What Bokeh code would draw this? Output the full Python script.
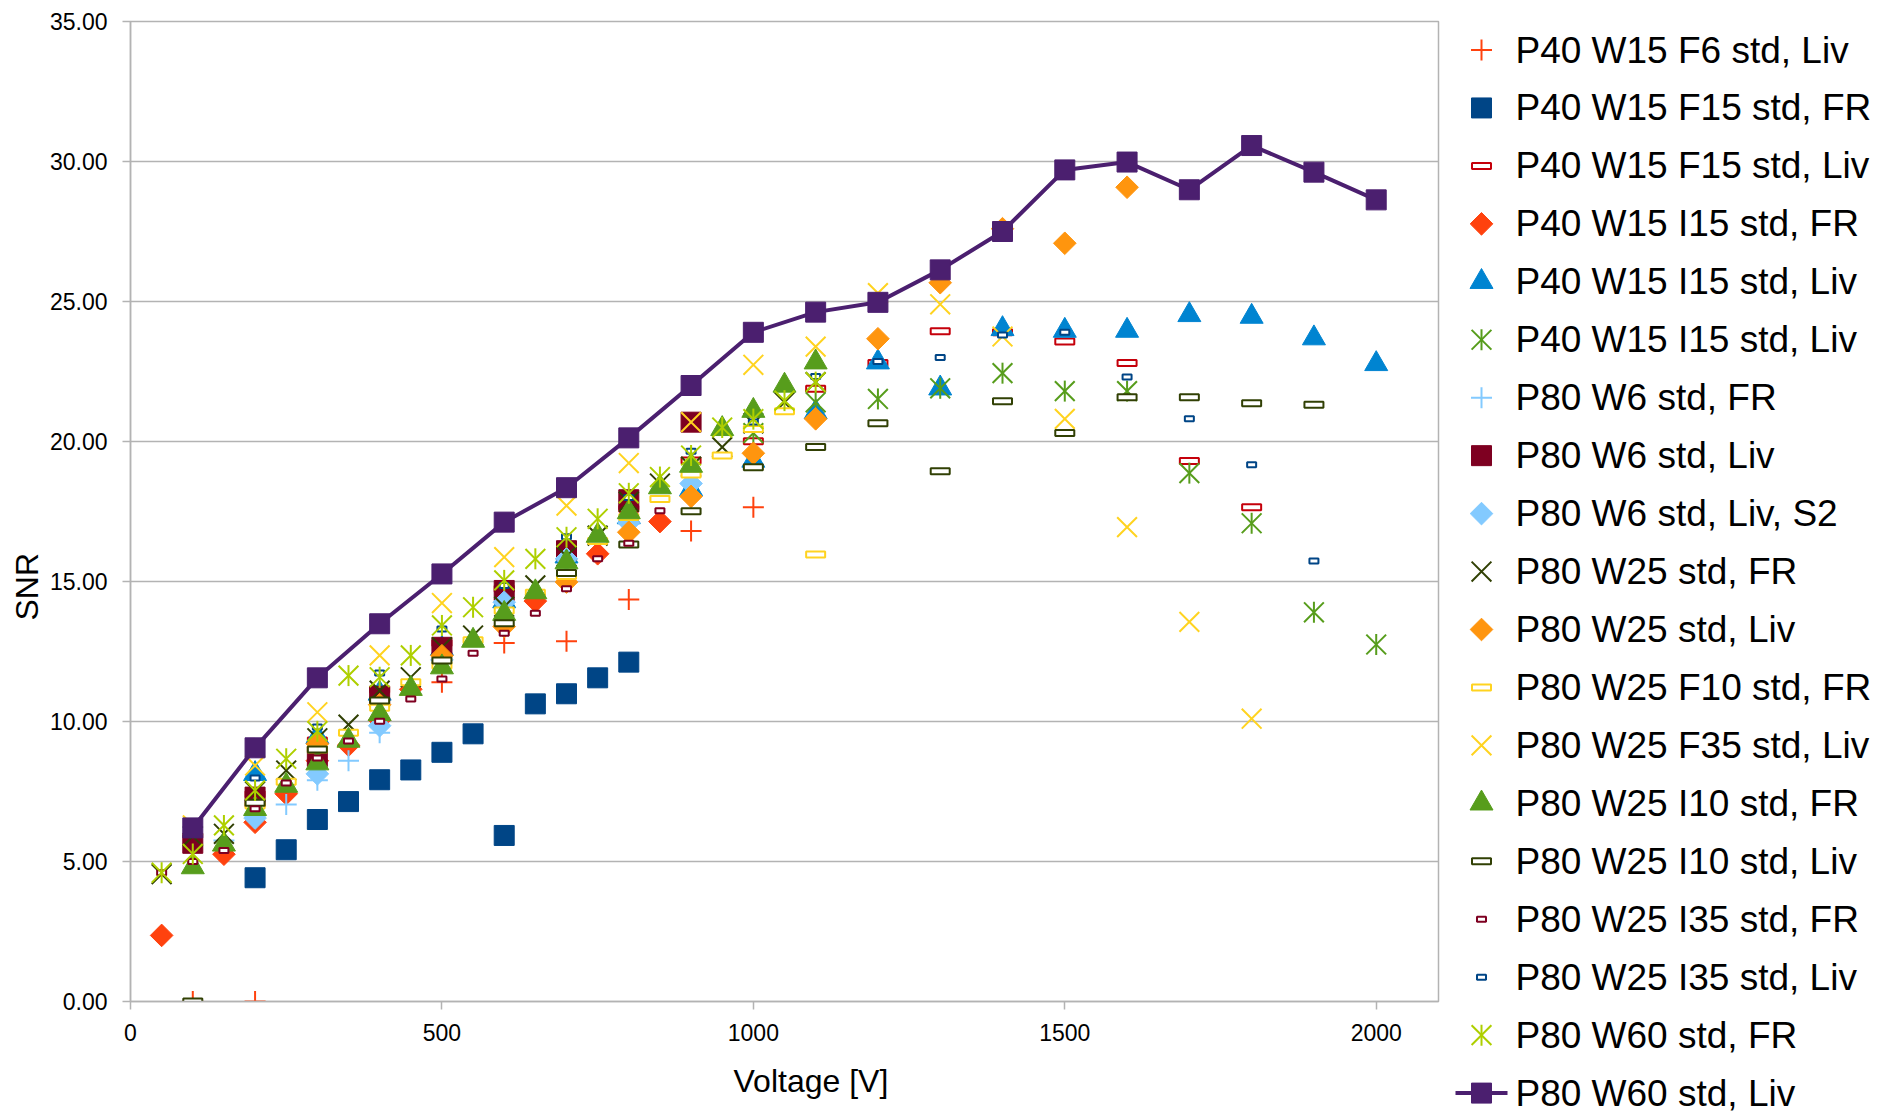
import math
from bokeh.plotting import figure
from bokeh.layouts import row
from bokeh.models import Range1d, FixedTicker, NumeralTickFormatter, Title
from bokeh.core.properties import value
from bokeh.embed import file_html
from bokeh.resources import INLINE

FONT = "Liberation Sans"
GRID = "#b3b3b3"

# ---------------- measurement data: voltage [V] vs. SNR ----------------
v_p40_w15_f6_liv = [100, 200, 500, 600, 700, 800, 900, 1000]
snr_p40_w15_f6_liv = [0.0, 0.0, 11.4, 12.8, 12.87, 14.36, 16.8, 17.65]

v_p40_w15_f15_fr = [200, 250, 300, 350, 400, 450, 500, 550, 600, 650, 700, 750, 800]
snr_p40_w15_f15_fr = [4.42, 5.42, 6.5, 7.14, 7.92, 8.27, 8.9, 9.56, 5.93, 10.63, 10.99, 11.56, 12.12]

v_p40_w15_f15_liv = [200, 300, 400, 500, 600, 700, 800, 900, 1000, 1100, 1200, 1300, 1400, 1500, 1600, 1700, 1800]
snr_p40_w15_f15_liv = [7.4, 9.32, 11.14, 12.8, 14.74, 16.3, 17.6, 19.32, 20.01, 21.88, 22.8, 23.94, 23.9, 23.57, 22.8, 19.3, 17.65]

v_p40_w15_i15_fr = [50, 150, 200, 250, 300, 350, 400, 450, 650, 750, 850]
snr_p40_w15_i15_fr = [2.36, 5.26, 6.4, 7.42, 8.6, 9.15, 10.05, 11.15, 14.3, 15.99, 17.14]

v_p40_w15_i15_liv = [200, 300, 400, 500, 600, 700, 800, 900, 1000, 1100, 1200, 1300, 1400, 1500, 1600, 1700, 1800, 1900, 2000]
snr_p40_w15_i15_liv = [8.13, 9.45, 11.0, 12.6, 14.3, 15.9, 17.3, 18.3, 19.32, 21.05, 22.83, 21.9, 24.02, 23.96, 23.96, 24.52, 24.46, 23.69, 22.77]

v_p40_w15_i15_liv_b = [1000, 1100, 1200, 1300, 1400, 1500, 1600, 1700, 1800, 1900, 2000]
snr_p40_w15_i15_liv_b = [20.3, 21.4, 21.52, 21.9, 22.44, 21.8, 21.8, 18.87, 17.08, 13.9, 12.75]

v_p80_w6_fr = [150, 200, 250, 300, 350, 400]
snr_p80_w6_fr = [5.75, 6.6, 7.04, 7.9, 8.6, 9.6]

v_p80_w6_liv = [100, 200, 300, 400, 500, 600, 700, 800, 900]
snr_p80_w6_liv = [5.65, 7.3, 8.75, 10.9, 12.65, 14.68, 16.1, 17.92, 20.69]

v_p80_w6_liv_s2 = [200, 300, 400, 500, 600, 700, 800, 900]
snr_p80_w6_liv_s2 = [6.55, 8.13, 9.85, 12.2, 14.26, 15.81, 17.1, 18.5]

v_p80_w25_fr = [50, 100, 150, 200, 250, 300, 350, 400, 450, 500, 550, 600, 650, 700, 750, 800, 850, 900, 950, 1000, 1050, 1100]
snr_p80_w25_fr = [4.55, 5.9, 5.99, 7.5, 8.25, 9.4, 9.89, 11.1, 11.58, 12.65, 13.07, 14.1, 14.86, 15.9, 16.64, 17.85, 18.5, 19.1, 19.8, 20.65, 21.4, 22.12]

v_p80_w25_liv = [300, 400, 500, 600, 700, 800, 900, 1000, 1100, 1200, 1300, 1400, 1500, 1600]
snr_p80_w25_liv = [9.2, 10.6, 12.35, 13.39, 14.98, 16.76, 18.04, 19.58, 20.81, 23.67, 25.67, 27.6, 27.08, 29.08]

v_p80_w25_f10_fr = [200, 250, 300, 350, 400, 450, 500, 550, 600, 650, 700, 750, 800, 850, 900, 950, 1000, 1050, 1100]
snr_p80_w25_f10_fr = [7.0, 7.85, 9.0, 9.6, 10.49, 11.4, 12.0, 12.9, 13.96, 14.6, 15.2, 16.45, 17.3, 17.95, 18.82, 19.5, 20.45, 21.08, 15.96]

v_p80_w25_f35_liv = [100, 200, 300, 400, 500, 600, 700, 800, 900, 1000, 1100, 1200, 1300, 1400, 1500, 1600, 1700, 1800]
snr_p80_w25_f35_liv = [6.29, 8.43, 10.33, 12.36, 14.23, 15.87, 17.71, 19.23, 20.69, 22.74, 23.39, 25.3, 24.9, 23.75, 20.81, 16.94, 13.56, 10.1]

v_p80_w25_i10_fr = [100, 150, 200, 250, 300, 350, 400, 450, 500, 550, 600, 650, 700, 750, 800, 850, 900, 950, 1000, 1050, 1100]
snr_p80_w25_i10_fr = [4.8, 5.61, 6.88, 7.71, 8.51, 9.32, 10.27, 11.17, 11.94, 12.89, 13.85, 14.62, 15.69, 16.64, 17.48, 18.37, 19.14, 20.45, 21.1, 22.0, 22.83]

v_p80_w25_i10_liv = [100, 200, 300, 400, 500, 600, 700, 800, 900, 1000, 1100, 1200, 1300, 1400, 1500, 1600, 1700, 1800, 1900]
snr_p80_w25_i10_liv = [0.0, 7.1, 9.0, 10.75, 12.18, 13.51, 15.3, 16.32, 17.51, 19.08, 19.8, 20.65, 18.94, 21.44, 20.3, 21.58, 21.58, 21.37, 21.31]

v_p80_w25_i35_fr = [50, 100, 150, 200, 250, 300, 350, 400, 450, 500, 550, 600, 650, 700, 750, 800, 850]
snr_p80_w25_i35_fr = [4.6, 5.0, 5.39, 6.88, 7.8, 8.7, 9.3, 10.01, 10.8, 11.52, 12.44, 13.15, 13.87, 14.74, 15.81, 16.37, 17.53]

v_p80_w25_i35_liv = [100, 200, 300, 400, 500, 600, 700, 800, 900, 1000, 1100, 1200, 1300, 1400, 1500, 1600, 1700, 1800, 1900]
snr_p80_w25_i35_liv = [6.2, 7.98, 9.8, 11.73, 13.3, 14.86, 16.6, 18.0, 19.65, 20.7, 22.32, 22.86, 23.0, 23.8, 23.9, 22.3, 20.81, 19.17, 15.73]

v_p80_w60_fr = [50, 100, 150, 200, 250, 300, 350, 400, 450, 500, 550, 600, 650, 700, 750, 800, 850, 900, 950, 1000, 1050, 1100]
snr_p80_w60_fr = [4.6, 5.27, 6.29, 7.54, 8.67, 9.65, 11.64, 11.58, 12.36, 13.43, 14.08, 15.04, 15.81, 16.58, 17.24, 18.15, 18.73, 19.5, 20.5, 20.8, 21.46, 22.12]

v_p80_w60_liv = [100, 200, 300, 400, 500, 600, 700, 800, 900, 1000, 1100, 1200, 1300, 1400, 1500, 1600, 1700, 1800, 1900, 2000]
snr_p80_w60_liv = [6.2, 9.06, 11.56, 13.49, 15.27, 17.12, 18.35, 20.13, 22.0, 23.9, 24.62, 24.97, 26.13, 27.5, 29.7, 29.98, 28.99, 30.57, 29.62, 28.63]

x_ticks = [0, 500, 1000, 1500, 2000]
y_ticks = [0, 5, 10, 15, 20, 25, 30, 35]

# label, voltages, snr values, marker kind, colour
series = [
    ("P40 W15 F6 std, Liv", v_p40_w15_f6_liv, snr_p40_w15_f6_liv, "plus", "#ff420e"),
    ("P40 W15 F15 std, FR", v_p40_w15_f15_fr, snr_p40_w15_f15_fr, "square", "#004586"),
    ("P40 W15 F15 std, Liv", v_p40_w15_f15_liv, snr_p40_w15_f15_liv, "bar", "#c5000b"),
    ("P40 W15 I15 std, FR", v_p40_w15_i15_fr, snr_p40_w15_i15_fr, "diamond", "#ff420e"),
    ("P40 W15 I15 std, Liv", v_p40_w15_i15_liv, snr_p40_w15_i15_liv, "triangle", "#0084d1"),
    ("P40 W15 I15 std, Liv", v_p40_w15_i15_liv_b, snr_p40_w15_i15_liv_b, "asterisk", "#579d1c"),
    ("P80 W6 std, FR", v_p80_w6_fr, snr_p80_w6_fr, "plus", "#83caff"),
    ("P80 W6 std, Liv", v_p80_w6_liv, snr_p80_w6_liv, "square", "#7e0021"),
    ("P80 W6 std, Liv, S2", v_p80_w6_liv_s2, snr_p80_w6_liv_s2, "diamond", "#83caff"),
    ("P80 W25 std, FR", v_p80_w25_fr, snr_p80_w25_fr, "x", "#314004"),
    ("P80 W25 std, Liv", v_p80_w25_liv, snr_p80_w25_liv, "diamond", "#ff950e"),
    ("P80 W25 F10 std, FR", v_p80_w25_f10_fr, snr_p80_w25_f10_fr, "bar", "#ffd320"),
    ("P80 W25 F35 std, Liv", v_p80_w25_f35_liv, snr_p80_w25_f35_liv, "x", "#ffd320"),
    ("P80 W25 I10 std, FR", v_p80_w25_i10_fr, snr_p80_w25_i10_fr, "triangle", "#579d1c"),
    ("P80 W25 I10 std, Liv", v_p80_w25_i10_liv, snr_p80_w25_i10_liv, "bar", "#314004"),
    ("P80 W25 I35 std, FR", v_p80_w25_i35_fr, snr_p80_w25_i35_fr, "smallbar", "#7e0021"),
    ("P80 W25 I35 std, Liv", v_p80_w25_i35_liv, snr_p80_w25_i35_liv, "smallbar", "#004586"),
    ("P80 W60 std, FR", v_p80_w60_fr, snr_p80_w60_fr, "asterisk", "#aecf00"),
    ("P80 W60 std, Liv", v_p80_w60_liv, snr_p80_w60_liv, "line", "#4b1f6f"),
]


def draw_marks(fig, xs, ys, kind, color):
    if kind == "plus":
        fig.scatter(xs, ys, marker="cross", size=21, line_color=color, line_width=2)
    elif kind == "x":
        fig.scatter(xs, ys, marker="x", size=28, line_color=color, line_width=2)
    elif kind == "asterisk":
        fig.scatter(xs, ys, marker="x", size=28, line_color=color, line_width=2)
        fig.scatter(xs, ys, marker="dash", size=21, angle=math.pi / 2,
                    line_color=color, line_width=2)
    elif kind == "square":
        fig.scatter(xs, ys, marker="square", size=20, fill_color=color, line_color=color)
    elif kind == "diamond":
        fig.scatter(xs, ys, marker="square", size=16, angle=math.pi / 4,
                    fill_color=color, line_color=color)
    elif kind == "triangle":
        fig.scatter(xs, ys, marker="triangle", size=23, fill_color=color, line_color=color)
    elif kind == "bar":
        fig.rect(xs, ys, width=19, height=6, width_units="screen", height_units="screen",
                 fill_color="white", line_color=color, line_width=2)
    elif kind == "smallbar":
        fig.rect(xs, ys, width=9, height=5, width_units="screen", height_units="screen",
                 fill_color="white", line_color=color, line_width=2)
    elif kind == "line":
        fig.line(xs, ys, line_color=color, line_width=4)
        fig.scatter(xs, ys, marker="square", size=20, fill_color=color, line_color=color)


def no_frame_align(fig):
    if "frame_align" in fig.properties():
        fig.frame_align = False


# ---------------- main scatter chart ----------------
p = figure(width=1448, height=1115, x_range=Range1d(0, 2100), y_range=Range1d(0, 35),
           output_backend="svg", toolbar_location=None,
           min_border_left=130, min_border_right=10, min_border_top=21, min_border_bottom=114)
no_frame_align(p)
p.background_fill_color = "white"
p.border_fill_color = "white"
p.outline_line_color = GRID
p.outline_line_width = 1.5

p.xgrid.visible = False
p.ygrid.grid_line_color = GRID
p.ygrid.grid_line_width = 1.5

p.xaxis.ticker = FixedTicker(ticks=x_ticks)
p.yaxis.ticker = FixedTicker(ticks=y_ticks)
p.yaxis.formatter = NumeralTickFormatter(format="0.00")
for ax in (p.xaxis, p.yaxis):
    ax.axis_line_color = GRID
    ax.axis_line_width = 1.5
    ax.major_tick_line_color = GRID
    ax.major_tick_line_width = 1.5
    ax.major_tick_out = 8
    ax.major_tick_in = 0
    ax.minor_tick_line_color = None
    ax.major_label_text_font = FONT
    ax.major_label_text_font_size = "23px"
    ax.major_label_text_color = "black"
p.xaxis.major_label_standoff = 14
p.yaxis.major_label_standoff = 15

for label, xs, ys, kind, color in series:
    draw_marks(p, xs, ys, kind, color)

# axis titles, placed along the frame edges
p.add_layout(Title(text="Voltage [V]", align="left", offset=603, standoff=34,
                   text_font=FONT, text_font_size="32px", text_font_style="normal",
                   text_color="black"), "below")
p.add_layout(Title(text="SNR", align="left", offset=381, standoff=4,
                   text_font=FONT, text_font_size="32px", text_font_style="normal",
                   text_color="black"), "left")

# ---------------- legend panel ----------------
leg = figure(frame_width=430, frame_height=1115, x_range=Range1d(0, 430),
             y_range=Range1d(1115, 0), output_backend="svg", toolbar_location=None,
             x_axis_type=None, y_axis_type=None,
             min_border=0, min_border_left=0, min_border_right=0,
             min_border_top=0, min_border_bottom=0)
no_frame_align(leg)
leg.outline_line_color = None
leg.background_fill_color = "white"
leg.border_fill_color = "white"
leg.xgrid.visible = False
leg.ygrid.visible = False

row_y = [49.5 + 57.95 * i for i in range(len(series))]
for (label, xs, ys, kind, color), yy in zip(series, row_y):
    if kind == "line":
        leg.line([7, 59], [yy, yy], line_color=color, line_width=4)
        leg.scatter([33], [yy], marker="square", size=20, fill_color=color, line_color=color)
    else:
        draw_marks(leg, [33], [yy], kind, color)
leg.text(x=[67] * len(series), y=row_y, text=[s[0] for s in series],
         text_font=value(FONT), text_font_size="37px", text_baseline="middle",
         text_align="left", text_color="black")

layout = row(p, leg)
open("out.html", "w").write(file_html(layout, INLINE))
